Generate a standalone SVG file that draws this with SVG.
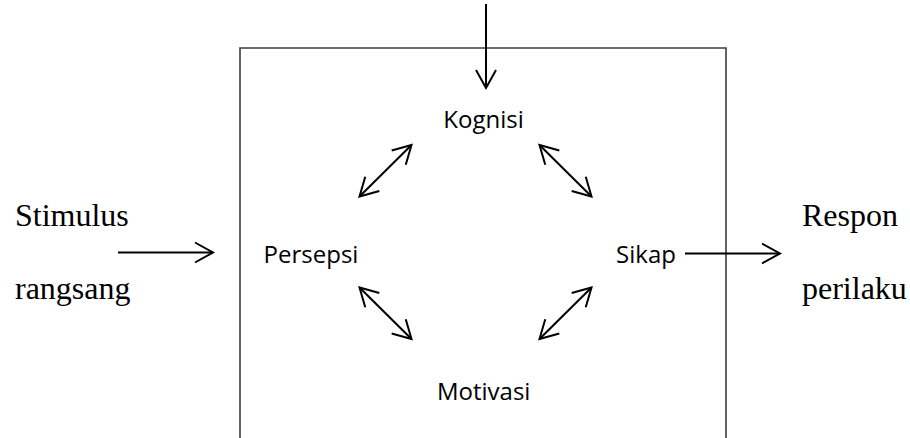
<svg xmlns="http://www.w3.org/2000/svg" width="910" height="438" viewBox="0 0 910 438">
  <style>
    .sans { font-family: "Open Sans", "Noto Sans", "DejaVu Sans", sans-serif; font-size: 24px; fill: #000; }
    .serif { font-family: "Liberation Serif", "Times New Roman", serif; font-size: 32px; fill: #000; }
    .frame { fill: none; stroke: #3c3c3c; stroke-width: 1.6; }
    .conn { fill: none; stroke: #000; stroke-width: 2; }
    .arr { marker-end: url(#head); }
    .dbl { marker-start: url(#head); marker-end: url(#head); }
  </style>
  <defs>
    <marker id="head" viewBox="-21 -12 24 24" markerWidth="24" markerHeight="24" refX="0" refY="0" markerUnits="userSpaceOnUse" orient="auto-start-reverse" overflow="visible">
      <path d="M-18,-10 L0,0 L-18,10" fill="none" stroke="#000" stroke-width="2" stroke-linejoin="miter"/>
    </marker>
  </defs>
  <rect width="910" height="438" fill="#fff"/>

  <g id="frame">
    <path class="frame" d="M240,438 L240,48 L726,48 L726,438"/>
  </g>

  <g id="connectors">
    <line class="conn arr" x1="486" y1="4" x2="486" y2="88"/>
    <line class="conn arr" x1="118" y1="252.5" x2="213" y2="252.5"/>
    <line class="conn arr" x1="685" y1="253.5" x2="780" y2="253.5"/>
    <line class="conn dbl" x1="359.5" y1="196.5" x2="411.5" y2="145"/>
    <line class="conn dbl" x1="539.5" y1="145" x2="591.5" y2="196.5"/>
    <line class="conn dbl" x1="359.5" y1="287.5" x2="411.5" y2="339"/>
    <line class="conn dbl" x1="591.5" y1="287.5" x2="539.5" y2="339"/>
  </g>

  <g id="node-kognisi"><text class="sans" x="483.5" y="128" text-anchor="middle">Kognisi</text></g>
  <g id="node-persepsi"><text class="sans" x="311" y="263" text-anchor="middle">Persepsi</text></g>
  <g id="node-sikap"><text class="sans" x="646" y="263" text-anchor="middle">Sikap</text></g>
  <g id="node-motivasi"><text class="sans" x="483.7" y="400" text-anchor="middle">Motivasi</text></g>
  <g id="node-stimulus">
    <text class="serif" x="15" y="226">Stimulus</text>
    <text class="serif" x="15" y="299">rangsang</text>
  </g>
  <g id="node-respon">
    <text class="serif" x="802" y="226">Respon</text>
    <text class="serif" x="802" y="299">perilaku</text>
  </g>
</svg>
